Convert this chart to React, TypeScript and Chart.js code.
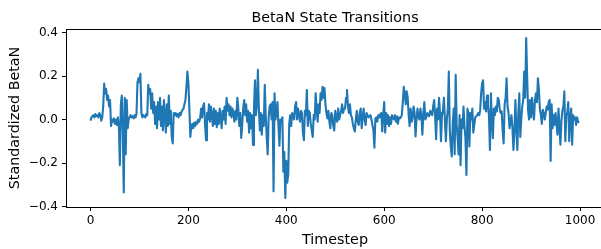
import React, { useEffect, useRef } from "react";
import { Chart, registerables } from "chart.js";

Chart.register(...registerables);

const chartTitle = "BetaN State Transitions";
const xLabel = "Timestep";
const yLabel = "Standardized BetaN";
const xTicks = [0, 200, 400, 600, 800, 1000];
const yTicks = [-0.4, -0.2, 0, 0.2, 0.4];
const STEP = 2;

// Standardized BetaN, one value every 2 timesteps
const betaN_000 = [
  -0.005, 0.01, 0.015, 0.02, 0.01, 0.025, 0.015, 0.02, 0.01, 0.03,
  0.02, -0.005, 0.01, 0.06, 0.165, 0.12, 0.14, 0.09, 0.11, 0.06,
  0.09, -0.03, 0.0, -0.01, 0.005, -0.02, 0.0, -0.025, 0.01, -0.03,
  -0.21, 0.07, 0.11, -0.05, -0.335, 0.1, -0.16, 0.09, -0.04, 0.0,
  0.01, 0.02, 0.01, 0.015, 0.005, 0.02, 0.01, 0.025, 0.17, 0.19,
  0.17, 0.21, 0.03, 0.01, 0.02, 0.015, 0.01, 0.025, 0.02, 0.16,
  0.12, 0.14, 0.05, 0.12, 0.03, 0.08, -0.02, 0.06, -0.04, 0.08,
  0.0, 0.1, -0.03, 0.06, -0.05, 0.09, 0.02, -0.06, 0.07, -0.03,
  0.11, -0.02, 0.04, -0.08, -0.11, 0.03, 0.02, 0.03, 0.015, 0.025,
  0.01, 0.03, 0.02, 0.035, 0.045, 0.05, 0.07, 0.09, 0.15, 0.22,
];
const betaN_200 = [
  0.17, 0.05, -0.08, -0.03, -0.02, -0.04, -0.015, -0.03, -0.01, -0.02,
  0.0, -0.01, 0.005, 0.05, 0.01, 0.06, 0.075, -0.02, -0.095, 0.03,
  0.0, 0.07, -0.01, 0.06, 0.02, -0.03, 0.05, -0.02, 0.04, -0.035,
  0.03, -0.02, 0.05, 0.01, -0.04, 0.04, 0.0, 0.06, -0.02, 0.1,
  0.04, 0.07, 0.02, 0.06, 0.01, 0.05, 0.03, -0.01, 0.04, 0.0,
  0.1, 0.05, -0.03, 0.03, -0.085, -0.02, 0.05, 0.09, 0.02, 0.07,
  -0.01, 0.04, -0.06, 0.03, -0.04, 0.02, -0.117, 0.05, 0.18, 0.02,
  0.07, 0.228, 0.05, -0.05, 0.03, -0.07, 0.02, -0.03, 0.16, 0.02,
  -0.08, -0.16, 0.01, 0.06, 0.07, 0.0, 0.08, -0.33, 0.12, 0.0,
  0.04, 0.08, -0.03, -0.12, 0.0, -0.01, 0.01, -0.24, -0.15, -0.36,
];
const betaN_400 = [
  -0.19, -0.29, -0.25, -0.02, 0.02, -0.03, 0.03, 0.02, 0.0, 0.06,
  0.08, 0.0, 0.05, 0.02, -0.01, 0.04, 0.03, -0.06, -0.095, 0.04,
  0.02, 0.136, -0.03, 0.04, 0.03, -0.02, -0.05, -0.08, 0.02, 0.0,
  0.12, 0.05, -0.01, 0.07, 0.03, 0.12, 0.09, 0.15, 0.1, 0.145,
  0.07, 0.03, 0.005, 0.04, -0.01, -0.04, 0.03, 0.02, -0.03, -0.05,
  0.04, 0.01, -0.01, 0.05, 0.0, 0.02, 0.04, 0.07, 0.03, 0.05,
  0.05, 0.1, 0.136, 0.06, 0.03, 0.07, 0.02, 0.01, -0.02, -0.04,
  -0.055, 0.0, 0.04, -0.01, -0.025, 0.03, 0.05, -0.04, 0.01, 0.05,
  0.0, -0.025, 0.03, 0.02, 0.01, 0.015, 0.02, 0.0, -0.025, -0.05,
  -0.13, 0.005, 0.01, -0.01, 0.02, 0.01, 0.025, 0.03, -0.055, 0.02,
];
const betaN_600 = [
  0.08, -0.06, 0.03, -0.02, 0.02, -0.03, 0.01, -0.02, 0.02, 0.01,
  0.0, 0.02, -0.01, 0.015, -0.02, 0.01, 0.005, 0.01, 0.02, 0.08,
  0.15, 0.12, 0.07, 0.13, 0.1, 0.02, -0.03, 0.05, -0.01, 0.01,
  0.06, 0.03, -0.078, 0.0, 0.05, 0.01, 0.0, 0.05, 0.02, -0.07,
  0.03, 0.08, 0.0, 0.01, 0.03, 0.02, 0.015, 0.04, 0.03, 0.02,
  0.06, 0.09, 0.02, -0.09, 0.05, 0.0, 0.1, 0.03, -0.1, 0.02,
  0.04, 0.1, 0.0, -0.1, 0.0, 0.05, 0.22, -0.05, -0.124, -0.17,
  -0.02, 0.05, -0.16, 0.205, -0.02, -0.086, -0.16, 0.02, -0.21, 0.0,
  -0.04, 0.06, -0.03, -0.086, -0.255, 0.05, 0.03, -0.124, 0.03, 0.0,
  0.05, -0.06, -0.025, 0.01, 0.015, 0.02, 0.03, 0.02, 0.04, 0.12,
];
const betaN_800 = [
  0.167, 0.18, 0.05, 0.08, 0.037, 0.11, 0.06, 0.02, -0.14, 0.12,
  0.0, -0.086, 0.05, 0.02, 0.06, 0.037, 0.1, 0.09, 0.05, 0.03,
  0.037, -0.05, -0.11, 0.067, 0.1, 0.19, 0.06, 0.03, -0.04, -0.01,
  0.02, -0.04, -0.14, -0.06, 0.09, -0.04, -0.14, 0.03, 0.12, -0.08,
  0.0, 0.06, 0.09, 0.22, 0.1, 0.374, 0.2, 0.04, 0.0, 0.09,
  0.01, 0.1, 0.04, 0.0, 0.09, 0.12, 0.08, 0.19, 0.14, 0.05,
  0.02, -0.02, 0.045, 0.03, 0.0, 0.03, 0.06, 0.045, 0.08, 0.09,
  -0.19, 0.07, -0.04, 0.02, -0.025, 0.03, -0.02, -0.07, 0.05, -0.03,
  -0.116, -0.005, 0.04, 0.06, 0.13, -0.1, 0.02, 0.03, 0.08, -0.1,
  0.01, 0.05, -0.116, 0.02, 0.0, 0.01, -0.025, 0.01, -0.01, -0.015,
];

const segmentStarts = [0, 200, 400, 600, 800];
const segments = [betaN_000, betaN_200, betaN_400, betaN_600, betaN_800];

const FONT = "'DejaVu Sans', 'Liberation Sans', sans-serif";

export default function App() {
  const ref = useRef<HTMLCanvasElement>(null);

  useEffect(() => {
    if (!ref.current) return;
    const points = segments.flatMap((vals, s) =>
      vals.map((y, i) => ({ x: segmentStarts[s] + i * STEP, y }))
    );

    const framePlugin = {
      id: "frame",
      afterDraw(chart: any) {
        const { ctx, chartArea: a } = chart;
        ctx.save();
        ctx.strokeStyle = "#000";
        ctx.lineWidth = 1;
        ctx.strokeRect(Math.round(a.left) + 0.5, Math.round(a.top) + 0.5,
          Math.round(a.right - a.left), Math.round(a.bottom - a.top));
        ctx.fillStyle = "#000";
        ctx.font = `14.3px ${FONT}`;
        ctx.textAlign = "center";
        ctx.textBaseline = "alphabetic";
        ctx.fillText(chartTitle, (a.left + a.right) / 2, a.top - 7.2);
        ctx.restore();
      },
    };

    const chart = new Chart(ref.current, {
      type: "line",
      data: {
        datasets: [
          {
            label: yLabel,
            data: points,
            borderColor: "#1f77b4",
            borderWidth: 2.1,
            borderJoinStyle: "round",
            pointRadius: 0,
            tension: 0,
            fill: false,
          },
        ],
      },
      options: {
        responsive: false,
        animation: false,
        devicePixelRatio: 1,
        layout: { padding: { top: 29, right: 8, bottom: 0, left: 0 } },
        plugins: {
          legend: { display: false },
          tooltip: { enabled: false },
          title: { display: false },
        },
        scales: {
          x: {
            type: "linear",
            min: -50,
            max: 1049,
            afterBuildTicks: (s: any) => {
              s.ticks = xTicks.map((v) => ({ value: v }));
            },
            afterFit: (s: any) => {
              s.height = 42;
            },
            ticks: {
              color: "#000",
              font: { family: FONT, size: 12 },
              padding: 3,
              maxRotation: 0,
              autoSkip: false,
              callback: (v: any) => String(v),
            },
            grid: {
              drawOnChartArea: false,
              drawTicks: true,
              tickLength: 4,
              color: "#000",
              lineWidth: 1,
            },
            border: { display: false },
            title: {
              display: true,
              text: xLabel,
              color: "#000",
              font: { family: FONT, size: 14.3 },
              padding: { top: 0, bottom: 0.5 },
            },
          },
          y: {
            type: "linear",
            min: -0.402,
            max: 0.416,
            afterBuildTicks: (s: any) => {
              s.ticks = yTicks.map((v) => ({ value: v }));
            },
            afterFit: (s: any) => {
              s.width = 66;
            },
            ticks: {
              color: "#000",
              font: { family: FONT, size: 12 },
              padding: 4,
              callback: (v: any) => {
                const n = Number(v);
                return (n < -1e-9 ? "\u2212" : "") + Math.abs(n).toFixed(1);
              },
            },
            grid: {
              drawOnChartArea: false,
              drawTicks: true,
              tickLength: 4,
              color: "#000",
              lineWidth: 1,
            },
            border: { display: false },
            title: {
              display: true,
              text: yLabel,
              color: "#000",
              font: { family: FONT, size: 14.3 },
              padding: { top: 7, bottom: 0 },
            },
          },
        },
      },
      plugins: [framePlugin],
    });
    return () => chart.destroy();
  }, []);

  return (
    <div
      style={{
        position: "fixed",
        left: 0,
        top: 0,
        width: 601,
        height: 249,
        overflow: "hidden",
        background: "#fff",
      }}
    >
      <canvas ref={ref} width={612} height={249} style={{ display: "block" }} />
    </div>
  );
}
